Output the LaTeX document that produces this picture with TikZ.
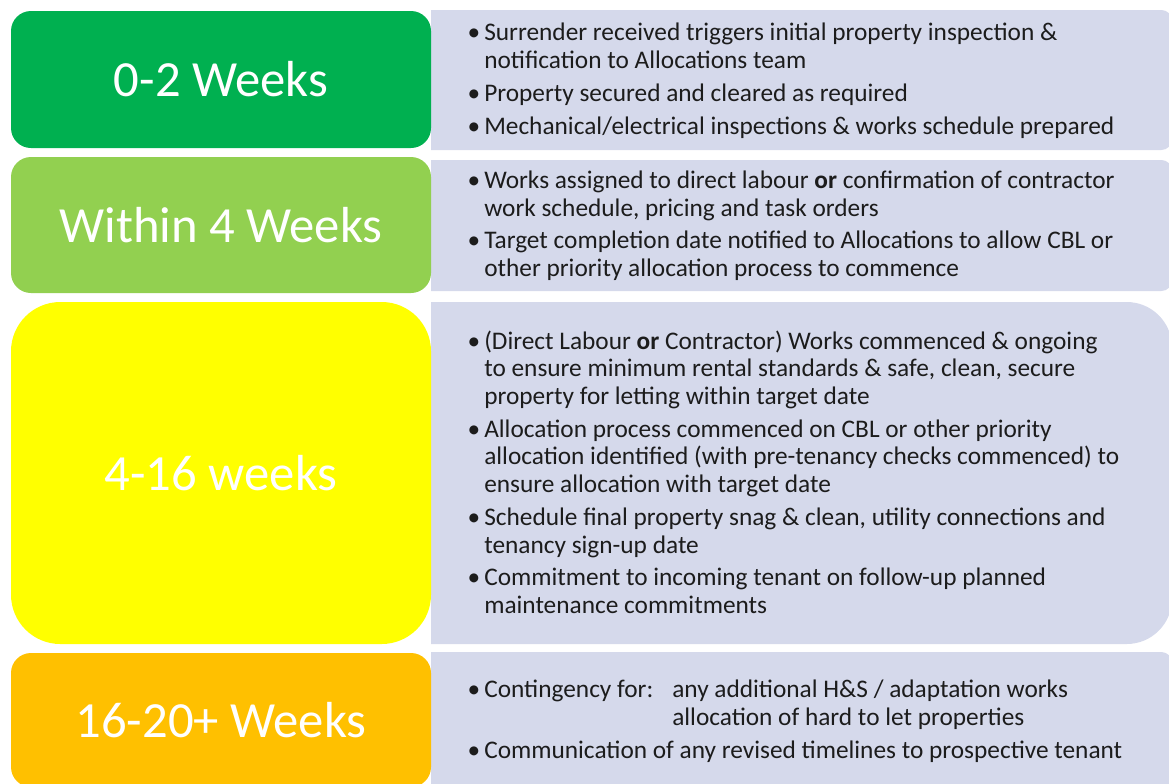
\documentclass[tikz,border=0pt]{standalone}
\usepackage{fontspec}
\setmainfont{Carlito}
\usepackage{xcolor}
\usetikzlibrary{positioning}
\definecolor{wkgreen}{RGB}{0,176,80}
\definecolor{wklime}{RGB}{146,208,80}
\definecolor{wkyellow}{RGB}{255,255,0}
\definecolor{wkamber}{RGB}{255,192,0}
\definecolor{panel}{RGB}{213,217,235}
\definecolor{ink}{RGB}{28,28,28}
\newcommand{\bl}{\llap{\textbullet\hspace{3pt}}}

\begin{document}
\begin{tikzpicture}[
  x=0.75pt, y=-0.75pt,
  phase/.style={rounded corners=15pt, minimum width=315pt, inner sep=0pt, text=white, font=\fontsize{38}{44}\selectfont},
  task/.style={anchor=base west, align=left, inner sep=0pt, text=ink, font=\fontsize{19}{20.6}\selectfont},
]
\useasboundingbox (0,0) rectangle (1169,783);
\clip (0,0) rectangle (1169,783);

% lavender panels, square on the left
\begin{scope}
  \clip (431,0) rectangle (1169,783);
  \fill[panel, rounded corners=8pt] (400,10) rectangle (1172,150);
  \fill[panel, rounded corners=8pt] (400,160) rectangle (1172,291);
  \fill[panel, rounded corners=34pt] (380,302) rectangle (1172,644);
  \fill[panel, rounded corners=8pt] (400,652) rectangle (1172,800);
\end{scope}

\node[phase, fill=wkgreen, minimum height=102.75pt] (wk1) at (221,79.5) {0-2 Weeks};
\node[phase, fill=wklime, minimum height=102pt] (wk2) at (221,225) {Within 4 Weeks};
\node[phase, fill=wkyellow, minimum height=256.5pt, rounded corners=37pt] (wk3) at (221,473) {4-16 weeks};
\node[phase, fill=wkamber, minimum height=100.5pt] (wk4) at (221,720) {16-20+ Weeks};

% base = last line of each bullet
\node[task] (t1a) at (484,68) {\bl Surrender received triggers initial property inspection \&\\notification to Allocations team};
\node[task] (t1b) at (484,101) {\bl Property secured and cleared as required};
\node[task] (t1c) at (484,134) {\bl Mechanical/electrical inspections \& works schedule prepared};

\node[task] (t2a) at (484,216) {\bl Works assigned to direct labour \textbf{or} confirmation of contractor\\work schedule, pricing and task orders};
\node[task] (t2b) at (484,276) {\bl Target completion date notified to Allocations to allow CBL or\\other priority allocation process to commence};

\node[task] (t3a) at (484,404) {\bl (Direct Labour \textbf{or} Contractor) Works commenced \& ongoing\\to ensure minimum rental standards \& safe, clean, secure\\property for letting within target date};
\node[task] (t3b) at (484,492) {\bl Allocation process commenced on CBL or other priority\\allocation identified (with pre-tenancy checks commenced) to\\ensure allocation with target date};
\node[task] (t3c) at (484,553) {\bl Schedule final property snag \& clean, utility connections and\\tenancy sign-up date};
\node[task] (t3d) at (484,613) {\bl Commitment to incoming tenant on follow-up planned\\maintenance commitments};

\node[task] (t4a) at (484,725) {\bl\makebox[141pt][l]{Contingency for:}any additional H\&S / adaptation works\\\hspace*{141pt}allocation of hard to let properties};
\node[task] (t4b) at (484,758) {\bl Communication of any revised timelines to prospective tenant};
\end{tikzpicture}
\end{document}
